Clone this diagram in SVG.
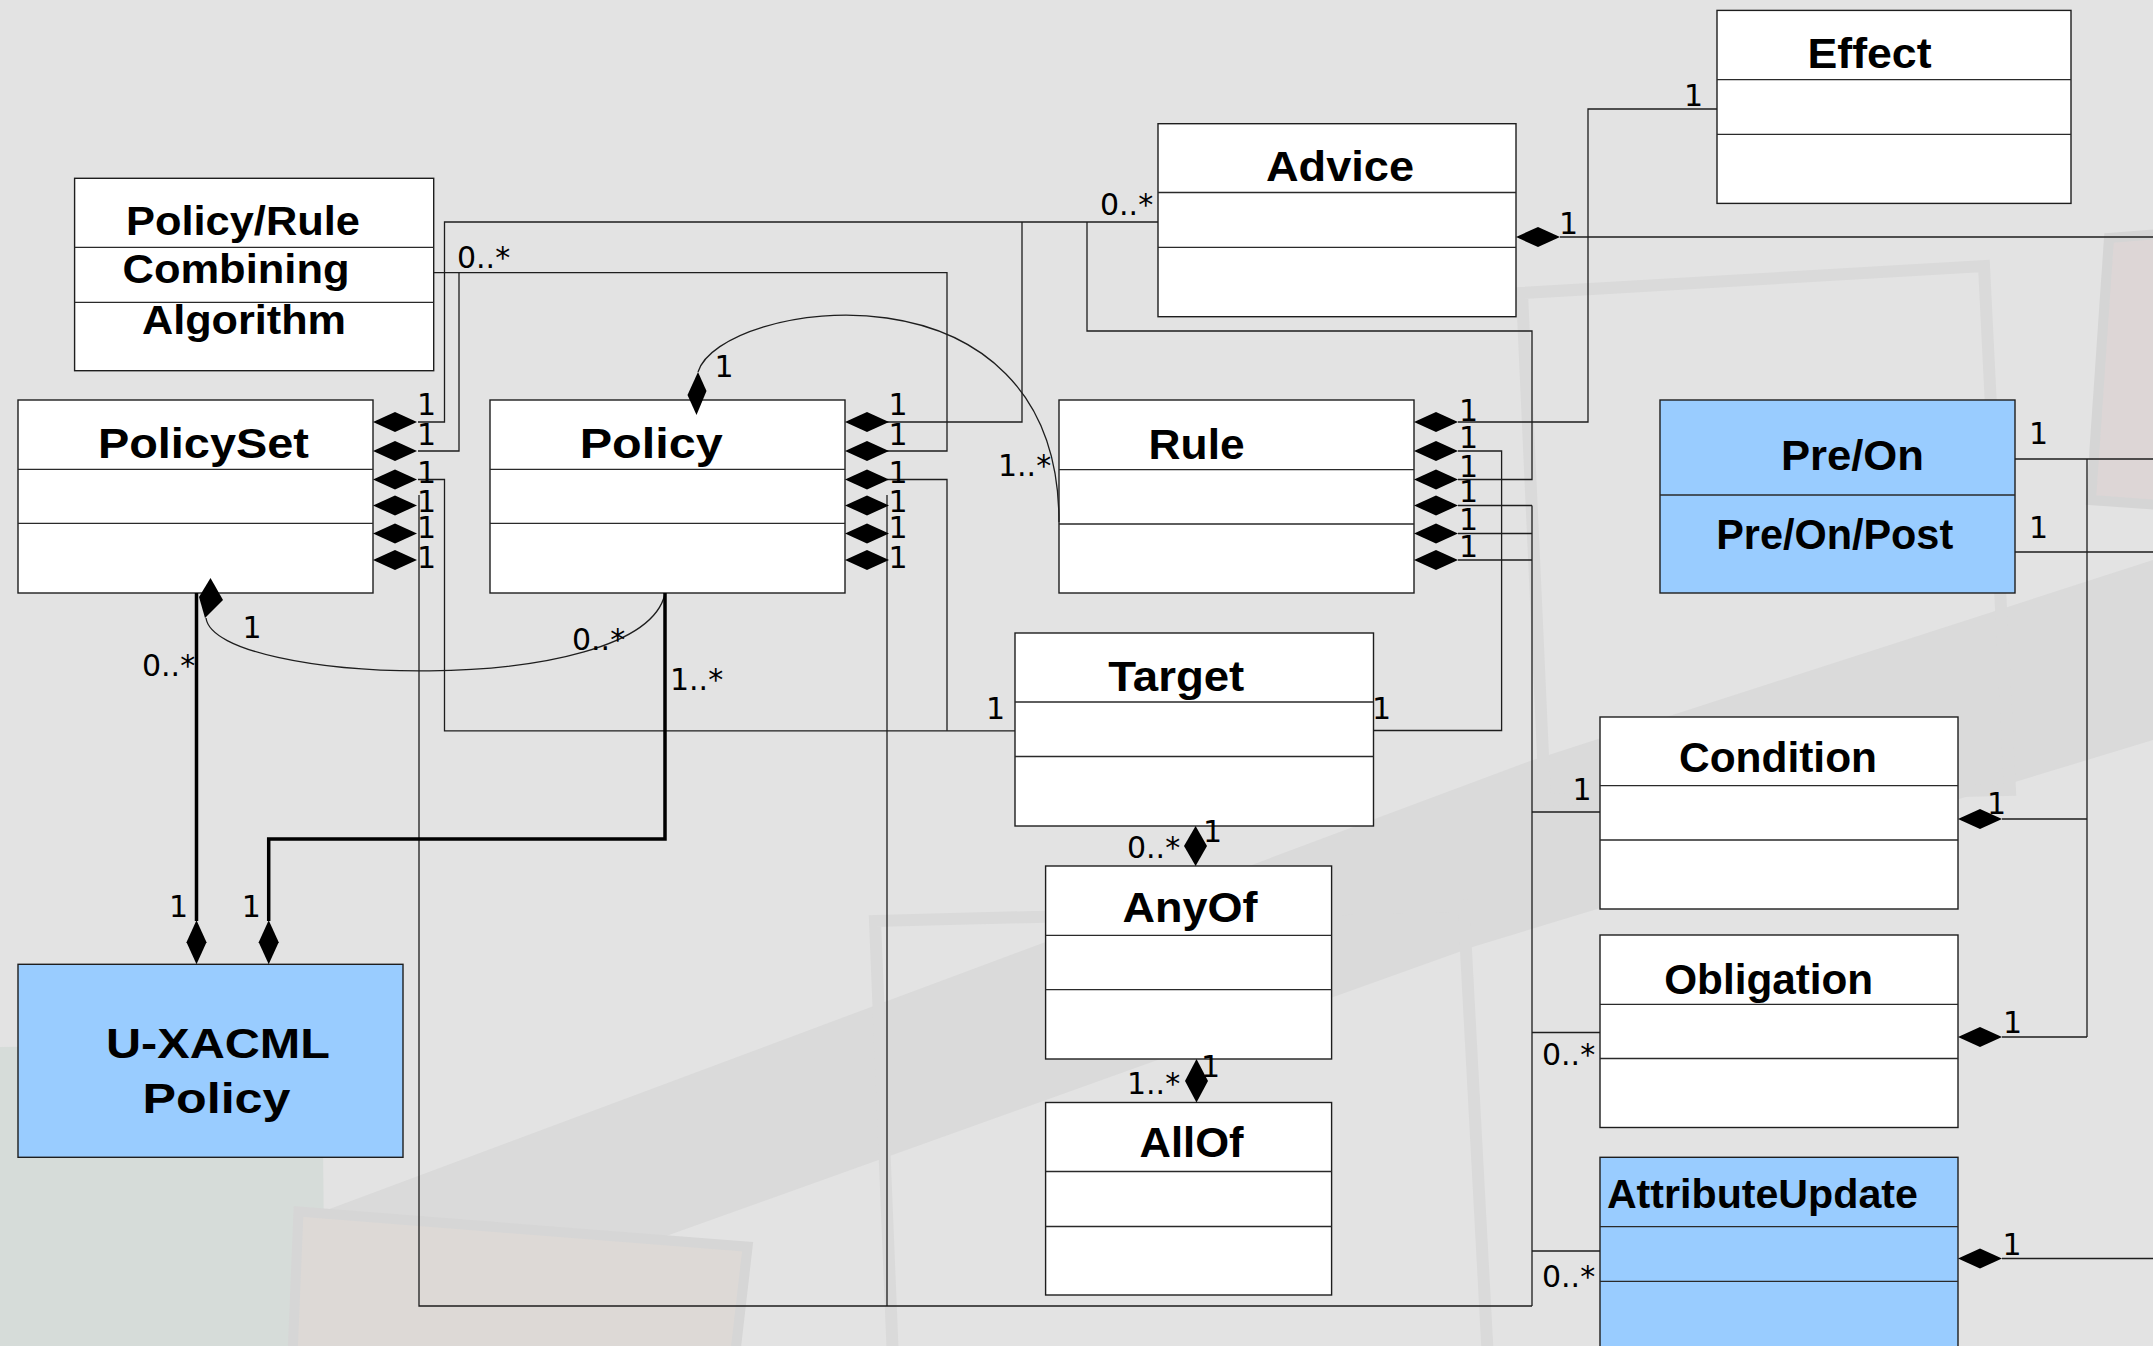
<svg xmlns="http://www.w3.org/2000/svg" xmlns:xlink="http://www.w3.org/1999/xlink" width="2153" height="1346" viewBox="0 0 2153 1346">
  <defs>
    <style>
      .box { fill: #ffffff; stroke: #1e1e1e; stroke-width: 1.4; }
      .blue { fill: #99ccff; }
      .sep { stroke: #2a2a2a; stroke-width: 1.3; fill: none; }
      .title { font-family: "Liberation Sans", Arial, sans-serif; font-weight: bold; font-size: 43px; fill: #000; text-anchor: middle; }
      .small { font-size: 40px; }
      .mult { font-family: "DejaVu Sans", "Liberation Sans", sans-serif; font-size: 30px; fill: #000; }
      .ln { fill: none; stroke: #1e1e1e; stroke-width: 1.3; }
      .thick { fill: none; stroke: #000; stroke-width: 3.5; }
      .dia { fill: #000; }
    </style>
    <!-- composition diamond, tip at origin, pointing towards -x -->
    <path id="dmd" d="M0,0 L22,-10 L44,0 L22,10 Z"/>
    <!-- vertical composition diamond, tip at origin, pointing down -->
    <path id="dmdv" d="M0,0 L-10,-22 L0,-44 L10,-22 Z"/>
  </defs>

  <!-- slide backdrop -->
  <g id="backdrop">
    <rect x="0" y="0" width="2153" height="1346" fill="#e3e3e3"/>
    <polygon points="0,1332 322.8,1211.6 1531.6,760.5 2153,560 2153,740 1475.7,946 359,1346 0,1346" fill="#dadada"/>
    <polygon points="875,921 1463.6,906 1488,1360 893,1360" fill="none" stroke="#dadada" stroke-width="12"/>
    <polygon points="1522,293 1984,266 2010,790 1545,800" fill="none" stroke="#dadada" stroke-width="12"/>
    <polygon points="2109,238 2160,234 2160,505 2091,500" fill="#ddd6d6" stroke="#d5d5d5" stroke-width="10"/>
    <polygon points="0,1047 322,1043 325,1346 0,1346" fill="#d6dcd9"/>
    <polygon points="298.5,1211.6 747.6,1246.7 735,1356 292.5,1356" fill="#ddd9d6" stroke="#d6d6d6" stroke-width="10"/>
  </g>

  <!-- classes -->
  <g id="policy-rule-combining-algorithm">
    <rect class="box" x="74.6" y="178.3" width="359.1" height="192.4"/>
    <path class="sep" d="M74.6,247.3 H433.7 M74.6,302.3 H433.7"/>
    <text class="title small" x="243" y="235" textLength="234" lengthAdjust="spacingAndGlyphs">Policy/Rule</text>
    <text class="title small" x="236" y="283" textLength="227" lengthAdjust="spacingAndGlyphs">Combining</text>
    <text class="title small" x="244" y="334" textLength="204" lengthAdjust="spacingAndGlyphs">Algorithm</text>
  </g>

  <g id="policyset">
    <rect class="box" x="18" y="400" width="355" height="193"/>
    <path class="sep" d="M18,469.3 H373 M18,523.3 H373"/>
    <text class="title" x="203.4" y="458.3" textLength="211" lengthAdjust="spacingAndGlyphs">PolicySet</text>
  </g>

  <g id="policy">
    <rect class="box" x="490" y="400" width="355" height="193"/>
    <path class="sep" d="M490,469.3 H845 M490,523.3 H845"/>
    <text class="title" x="651.2" y="458" textLength="143" lengthAdjust="spacingAndGlyphs">Policy</text>
  </g>

  <g id="rule">
    <rect class="box" x="1059" y="400" width="355" height="193"/>
    <path class="sep" d="M1059,469.7 H1414 M1059,524 H1414"/>
    <text class="title" x="1196.6" y="458.5" textLength="96" lengthAdjust="spacingAndGlyphs">Rule</text>
  </g>

  <g id="advice">
    <rect class="box" x="1158" y="123.7" width="358" height="193"/>
    <path class="sep" d="M1158,192.5 H1516 M1158,247.3 H1516"/>
    <text class="title" x="1340" y="181.3" textLength="148" lengthAdjust="spacingAndGlyphs">Advice</text>
  </g>

  <g id="effect">
    <rect class="box" x="1717" y="10.4" width="354" height="193"/>
    <path class="sep" d="M1717,79.7 H2071 M1717,134.4 H2071"/>
    <text class="title" x="1869.5" y="67.6" textLength="124" lengthAdjust="spacingAndGlyphs">Effect</text>
  </g>

  <g id="pre-on">
    <rect class="box blue" x="1660" y="400" width="355" height="193"/>
    <path class="sep" d="M1660,495 H2015"/>
    <text class="title" x="1852.4" y="470.4" textLength="143" lengthAdjust="spacingAndGlyphs">Pre/On</text>
    <text class="title" x="1834.7" y="549" textLength="237" lengthAdjust="spacingAndGlyphs">Pre/On/Post</text>
  </g>

  <g id="target">
    <rect class="box" x="1015" y="633" width="358.5" height="193"/>
    <path class="sep" d="M1015,702 H1373.5 M1015,756.5 H1373.5"/>
    <text class="title" x="1176.3" y="690.8" textLength="136" lengthAdjust="spacingAndGlyphs">Target</text>
  </g>

  <g id="anyof">
    <rect class="box" x="1045.6" y="866" width="286" height="193"/>
    <path class="sep" d="M1045.6,935.3 H1331.6 M1045.6,989.7 H1331.6"/>
    <text class="title" x="1190" y="922" textLength="135" lengthAdjust="spacingAndGlyphs">AnyOf</text>
  </g>

  <g id="allof">
    <rect class="box" x="1045.6" y="1102.5" width="286" height="192.5"/>
    <path class="sep" d="M1045.6,1171.5 H1331.6 M1045.6,1226.5 H1331.6"/>
    <text class="title" x="1191.5" y="1156.7" textLength="104" lengthAdjust="spacingAndGlyphs">AllOf</text>
  </g>

  <g id="condition">
    <rect class="box" x="1600" y="717" width="358" height="192"/>
    <path class="sep" d="M1600,785.6 H1958 M1600,840 H1958"/>
    <text class="title" x="1778" y="771.7" textLength="198" lengthAdjust="spacingAndGlyphs">Condition</text>
  </g>

  <g id="obligation">
    <rect class="box" x="1600" y="935" width="358" height="192.5"/>
    <path class="sep" d="M1600,1004.3 H1958 M1600,1058.5 H1958"/>
    <text class="title" x="1768.7" y="994.4" textLength="209" lengthAdjust="spacingAndGlyphs">Obligation</text>
  </g>

  <g id="attributeupdate">
    <rect class="box blue" x="1600" y="1157.3" width="358" height="200"/>
    <path class="sep" d="M1600,1226.7 H1958 M1600,1281.3 H1958"/>
    <text class="title small" x="1762.4" y="1208.3" textLength="311" lengthAdjust="spacingAndGlyphs">AttributeUpdate</text>
  </g>

  <g id="u-xacml-policy">
    <rect class="box blue" x="18" y="964.3" width="385" height="193"/>
    <text class="title" x="218" y="1058.3" textLength="224" lengthAdjust="spacingAndGlyphs">U-XACML</text>
    <text class="title" x="216.5" y="1113.3" textLength="148" lengthAdjust="spacingAndGlyphs">Policy</text>
  </g>

  <!-- associations and compositions -->
  <g id="connectors">
    <!-- PolicySet links -->
    <path class="ln" d="M418,422 H444.5 V222 H1158"/>
    <path class="ln" d="M418,451 H459 V272.7"/>
    <path class="ln" d="M433.7,272.7 H947 V451 H887"/>
    <path class="ln" d="M418,479.5 H444.5 V730.8 H1015"/>
    <path class="ln" d="M419,495 V1306 H1532"/>
    <!-- Policy links -->
    <path class="ln" d="M887,479.5 H947 V730.8"/>
    <path class="ln" d="M887,495 V1306"/>
    <path class="ln" d="M887,422 H1022 V222"/>
    <!-- Rule links -->
    <path class="ln" d="M1458,422 H1588 V109 H1717"/>
    <path class="ln" d="M1458,451 H1501.6 V730.5 H1373.5"/>
    <path class="ln" d="M1458,479.5 H1532 V331 H1087 V222"/>
    <path class="ln" d="M1458,505.5 H1532 M1458,533.5 H1532 M1458,560 H1532 M1532,505.5 V1306"/>
    <path class="ln" d="M1532,812 H1600 M1532,1032.5 H1600 M1532,1251 H1600"/>
    <!-- right-hand links -->
    <path class="ln" d="M1560,237 H2153"/>
    <path class="ln" d="M2015,459 H2153 M2015,552 H2153 M2087,459 V1037"/>
    <path class="ln" d="M2002,819 H2087 M2002,1037 H2087 M2002,1258.5 H2153"/>
    <!-- recursive curves -->
    <path class="ln" d="M206,618 C215,685 640,700 665,594"/>
    <path class="ln" d="M698,372 C720,300 1059,250 1059,522"/>
    <!-- U-XACML aggregation -->
    <path class="thick" d="M196.5,593 V921"/>
    <path class="thick" d="M665,593 V839 H268.7 V921"/>

    <!-- diamonds -->
    <g class="dia">
      <use xlink:href="#dmd" x="373" y="422"/>
      <use xlink:href="#dmd" x="373" y="451"/>
      <use xlink:href="#dmd" x="373" y="479.5"/>
      <use xlink:href="#dmd" x="373" y="505.5"/>
      <use xlink:href="#dmd" x="373" y="533.5"/>
      <use xlink:href="#dmd" x="373" y="560"/>

      <use xlink:href="#dmd" x="845" y="422"/>
      <use xlink:href="#dmd" x="845" y="451"/>
      <use xlink:href="#dmd" x="845" y="479.5"/>
      <use xlink:href="#dmd" x="845" y="505.5"/>
      <use xlink:href="#dmd" x="845" y="533.5"/>
      <use xlink:href="#dmd" x="845" y="560"/>

      <use xlink:href="#dmd" x="1414" y="422"/>
      <use xlink:href="#dmd" x="1414" y="451"/>
      <use xlink:href="#dmd" x="1414" y="479.5"/>
      <use xlink:href="#dmd" x="1414" y="505.5"/>
      <use xlink:href="#dmd" x="1414" y="533.5"/>
      <use xlink:href="#dmd" x="1414" y="560"/>

      <use xlink:href="#dmd" x="1516" y="237"/>
      <use xlink:href="#dmd" x="1958" y="819"/>
      <use xlink:href="#dmd" x="1958" y="1037"/>
      <use xlink:href="#dmd" x="1958" y="1258.5"/>

      <use xlink:href="#dmdv" x="196.5" y="964.3"/>
      <use xlink:href="#dmdv" x="268.7" y="964.3"/>

      <polygon points="1195.6,826 1207,846 1195.6,866 1184,846"/>
      <polygon points="1196.5,1059 1208,1081 1196.5,1102.5 1185,1081"/>
      <polygon points="210.5,578 223,600 205,618 199,597"/>
      <polygon points="698,372 706.5,391 696.5,415 687.5,395"/>
    </g>

    <!-- multiplicities -->
    <g class="mult">
      <text x="417" y="414.5">1</text>
      <text x="417" y="444.5">1</text>
      <text x="417" y="483.3">1</text>
      <text x="417" y="512">1</text>
      <text x="417" y="538">1</text>
      <text x="417" y="567.7">1</text>

      <text x="888.5" y="414.5">1</text>
      <text x="888.5" y="444.5">1</text>
      <text x="888.5" y="483.3">1</text>
      <text x="888.5" y="512">1</text>
      <text x="888.5" y="538">1</text>
      <text x="888.5" y="567.7">1</text>

      <text x="1459" y="421">1</text>
      <text x="1459" y="448">1</text>
      <text x="1459" y="477">1</text>
      <text x="1459" y="501.5">1</text>
      <text x="1459" y="529.5">1</text>
      <text x="1459" y="556.5">1</text>

      <text x="457" y="268.3">0..*</text>
      <text x="1100" y="215">0..*</text>
      <text x="1559" y="234">1</text>
      <text x="1684" y="106">1</text>
      <text x="714.5" y="376.7">1</text>
      <text x="998" y="476">1..*</text>
      <text x="242.5" y="638">1</text>
      <text x="572" y="650">0..*</text>
      <text x="142" y="676">0..*</text>
      <text x="670" y="690">1..*</text>
      <text x="169" y="916.7">1</text>
      <text x="241.8" y="916.7">1</text>
      <text x="986" y="719">1</text>
      <text x="1372" y="718.8">1</text>
      <text x="1127" y="857.7">0..*</text>
      <text x="1203" y="841.7">1</text>
      <text x="1127" y="1094">1..*</text>
      <text x="1201" y="1076.5">1</text>
      <text x="1572.5" y="800">1</text>
      <text x="1542" y="1065.3">0..*</text>
      <text x="1542" y="1286.6">0..*</text>
      <text x="1987" y="813.6">1</text>
      <text x="2003" y="1032.5">1</text>
      <text x="2002.5" y="1255">1</text>
      <text x="2029" y="443.7">1</text>
      <text x="2029" y="537.5">1</text>
    </g>
  </g>
</svg>
